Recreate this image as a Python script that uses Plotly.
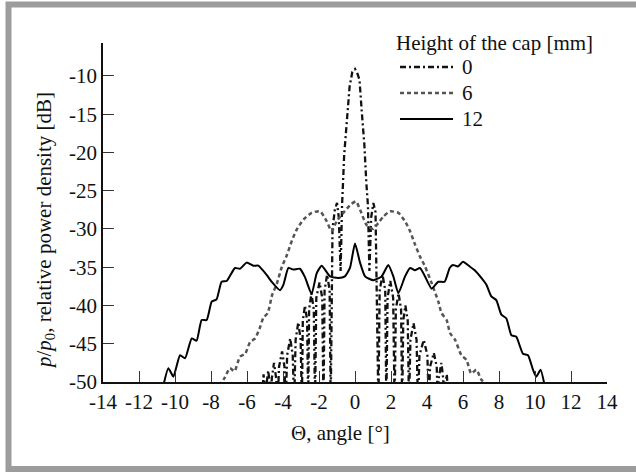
import plotly.graph_objects as go

# ---------------- data ----------------
theta_0 = [
    -5.20, -5.14, -5.08, -5.02, -4.95,
    -4.90, -4.82, -4.75, -4.70,
    -4.62, -4.50, -4.38, -4.30,
    -4.22, -4.05, -3.92, -3.85,
    -3.77, -3.60, -3.46, -3.38,
    -3.30, -3.15, -3.02, -2.95,
    -2.90, -2.78, -2.66, -2.60,
    -2.55, -2.42, -2.29, -2.22,
    -2.15, -1.97, -1.82, -1.75,
    -1.69, -1.55, -1.41, -1.35,
    -1.25, -1.12, -1.00, -0.90, -0.80, -0.72, -0.60, -0.45, -0.30, -0.15,
    0.00, 0.12, 0.25, 0.38, 0.52, 0.63, 0.72, 0.80, 0.90, 1.02, 1.14, 1.30,
    1.37, 1.53, 1.68, 1.74,
    1.81, 1.96, 2.12, 2.20,
    2.27, 2.42, 2.56, 2.62,
    2.68, 2.80, 2.93, 3.00,
    3.08, 3.25, 3.42, 3.50,
    3.58, 3.82, 4.02, 4.10,
    4.17, 4.38, 4.54, 4.60,
    4.65, 4.80, 4.90, 4.95,
    5.00, 5.10, 5.16, 5.22,
]
power_0 = [
    -53, -50.5, -49.0, -50.5, -53,
    -50.0, -48.5, -50.0, -53,
    -49.5, -47.5, -49.5, -53,
    -48.0, -46.0, -48.0, -53,
    -46.5, -44.3, -46.5, -53,
    -44.5, -42.2, -44.5, -53,
    -42.0, -40.0, -42.0, -53,
    -40.5, -38.4, -40.5, -53,
    -39.0, -37.0, -39.0, -53,
    -38.0, -36.0, -38.0, -53,
    -30.0, -27.5, -26.6, -28.5, -35.5, -27.0, -20.3, -16.0, -11.4, -9.5,
    -9.1, -9.6, -10.5, -14.8, -19.0, -24.0, -27.0, -35.5, -28.5, -26.6, -27.8, -53,
    -38.0, -36.0, -38.0, -53,
    -39.0, -36.8, -39.0, -53,
    -40.5, -38.4, -40.5, -53,
    -42.0, -40.0, -42.0, -53,
    -44.5, -42.3, -44.5, -53,
    -46.5, -44.5, -46.5, -53,
    -48.0, -46.2, -48.0, -53,
    -49.5, -47.5, -49.5, -53,
    -50.5, -49.0, -50.5, -53,
]

theta_6 = [
    -7.55, -7.25, -6.95, -6.70, -6.39, -6.10, -5.83, -5.55, -5.30, -5.09,
    -4.85, -4.60, -4.35, -4.07, -3.80, -3.50, -3.24, -2.87, -2.41, -1.94,
    -1.57, -1.30, -1.02, -0.65, -0.28, 0.05, 0.30, 0.65, 1.00, 1.30,
    1.57, 1.94, 2.41, 2.78, 3.06, 3.33, 3.61, 3.89, 4.26, 4.63,
    4.81, 5.09, 5.28, 5.56, 5.91, 6.19, 6.46, 6.74, 7.02, 7.40,
]
power_6 = [
    -50.5, -49.5, -48.2, -48.6, -46.7, -46.3, -44.8, -44.3, -43.0, -41.6,
    -41.0, -38.6, -37.2, -35.0, -33.5, -31.5, -30.1, -28.8, -27.9, -27.7,
    -29.0, -30.3, -29.0, -27.9, -26.9, -26.4, -27.6, -29.5, -30.0, -29.2,
    -28.4, -27.7, -27.9, -29.0, -30.3, -32.0, -33.6, -34.9, -37.1, -39.5,
    -41.0, -41.9, -43.6, -44.5, -46.5, -47.1, -48.9, -48.4, -49.7, -50.5,
]

theta_12 = [
    -10.65, -10.37, -10.09, -9.72, -9.44, -9.07, -8.80, -8.52, -8.24, -7.96,
    -7.69, -7.41, -7.13, -6.67, -6.39, -6.02, -5.65, -5.37, -4.91, -4.63,
    -4.17, -3.98, -3.70, -3.43, -3.06, -2.78, -2.41, -2.13, -1.85, -1.39,
    -0.93, -0.56, -0.28, 0.00, 0.28, 0.56, 1.02, 1.48, 1.85, 2.13,
    2.41, 2.78, 3.06, 3.33, 3.61, 3.89, 4.26, 4.63, 4.98, 5.26,
    5.44, 5.72, 6.00, 6.37, 6.65, 7.02, 7.30, 7.57, 7.85, 8.13,
    8.41, 8.69, 8.96, 9.33, 9.61, 9.89, 10.07, 10.31, 10.54,
]
power_12 = [
    -50.5, -48.2, -49.3, -46.5, -46.9, -44.3, -44.6, -41.9, -41.9, -39.5,
    -39.2, -36.9, -36.8, -35.1, -35.2, -34.4, -34.8, -34.8, -36.0, -36.9,
    -38.0, -37.3, -35.1, -35.3, -35.2, -36.3, -38.5, -35.8, -34.8, -36.2,
    -36.4, -36.2, -35.1, -31.9, -34.4, -36.2, -36.7, -36.2, -34.7, -36.2,
    -38.4, -36.2, -35.1, -35.4, -35.1, -36.2, -37.8, -36.9, -36.9, -35.1,
    -34.7, -34.9, -34.3, -34.9, -35.4, -36.4, -37.3, -38.8, -39.3, -41.2,
    -41.7, -43.9, -44.1, -46.3, -46.5, -48.4, -49.3, -48.4, -50.5,
]

series_names = ["0", "6", "12"]
legend_title = "Height of the cap [mm]"
x_tick_values = [-14, -12, -10, -8, -6, -4, -2, 0, 2, 4, 6, 8, 10, 12, 14]
x_tick_labels = ["-14", "-12", "-10", "-8", "-6", "-4", "-2", "0", "2", "4", "6", "8", "10", "12", "14"]
y_tick_values = [-50, -45, -40, -35, -30, -25, -20, -15, -10]
y_tick_labels = ["-50", "-45", "-40", "-35", "-30", "-25", "-20", "-15", "-10"]

FONT = "Liberation Serif, Times New Roman, serif"

styles = [
    dict(color="#111111", width=2.3, dash="6px,3px,2px,3px"),
    dict(color="#555555", width=2.5, dash="4px,3px"),
    dict(color="#000000", width=2),
]

fig = go.Figure()
fig.add_trace(go.Scatter(x=theta_0, y=power_0, mode="lines", name=series_names[0],
                         line=dict(**styles[0])))
fig.add_trace(go.Scatter(x=theta_6, y=power_6, mode="lines", name=series_names[1],
                         line=dict(**styles[1], shape="spline", smoothing=0.6)))
fig.add_trace(go.Scatter(x=theta_12, y=power_12, mode="lines", name=series_names[2],
                         line=dict(**styles[2], shape="spline", smoothing=0.5)))

# plot area in pixels: x 103..607, y 43..382
def px_x(p):
    return (p - 103) / 504


def px_y(p):
    return (382 - p) / 339


annotations = [
    dict(text="Θ, angle [°]", xref="paper", yref="paper", x=px_x(340), y=px_y(433),
         xanchor="center", yanchor="middle", showarrow=False, font=dict(family=FONT, size=21)),
    dict(text="<i>p</i>/<i>p</i><sub>0</sub>, relative power density [dB]",
         xref="paper", yref="paper", x=px_x(45), y=px_y(231), textangle=-90,
         xanchor="center", yanchor="middle", showarrow=False, font=dict(family=FONT, size=21)),
    dict(text=legend_title, xref="paper", yref="paper", x=px_x(394), y=px_y(43),
         xanchor="left", yanchor="middle", showarrow=False, font=dict(family=FONT, size=21)),
]
shapes = [
    dict(type="rect", xref="paper", yref="paper",
         x0=px_x(8.5), x1=px_x(700), y0=px_y(469), y1=px_y(4.5),
         line=dict(color="#9c9c9c", width=6), fillcolor="rgba(0,0,0,0)", layer="below"),
]
# legend key (layout decoration)
row_y = [67, 93, 119]
for name, st, ry in zip(series_names, styles, row_y):
    shapes.append(dict(type="line", xref="paper", yref="paper",
                       x0=px_x(400), x1=px_x(453), y0=px_y(ry), y1=px_y(ry),
                       line=dict(color=st["color"], width=st["width"], dash=st.get("dash", "solid"))))
    annotations.append(dict(text=name, xref="paper", yref="paper", x=px_x(460), y=px_y(ry),
                            xanchor="left", yanchor="middle", showarrow=False,
                            font=dict(family=FONT, size=21)))

fig.update_layout(
    width=636, height=473,
    margin=dict(l=103, r=29, t=43, b=91),
    paper_bgcolor="white", plot_bgcolor="rgba(0,0,0,0)",
    font=dict(family=FONT, size=21, color="#111111"),
    showlegend=False,
    xaxis=dict(range=[-14, 14], showgrid=False, zeroline=False,
               showline=True, linecolor="#111111", linewidth=1.5,
               ticks="inside", ticklen=11, tickwidth=1, tickcolor="#333333",
               tickvals=x_tick_values, ticktext=x_tick_labels,
               tickfont=dict(family=FONT, size=21)),
    yaxis=dict(range=[-50, -5.7], showgrid=False, zeroline=False,
               showline=True, linecolor="#111111", linewidth=1.5,
               ticks="inside", ticklen=11, tickwidth=1, tickcolor="#333333",
               tickvals=y_tick_values, ticktext=y_tick_labels,
               tickfont=dict(family=FONT, size=21)),
    annotations=annotations,
    shapes=shapes,
)

fig.write_html("out.html", config={"displayModeBar": False},
               post_script="document.body.style.margin='0';")
